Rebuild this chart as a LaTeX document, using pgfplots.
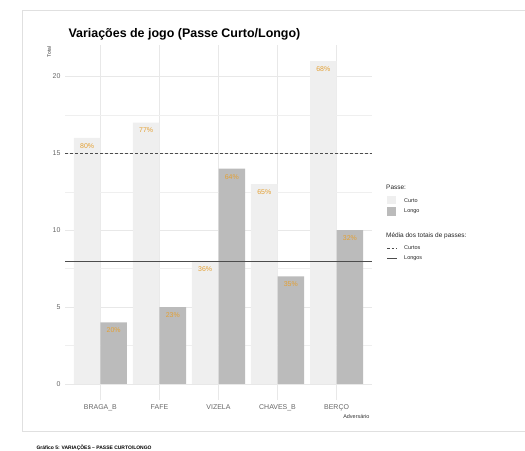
\documentclass[border=0pt]{standalone}
\usepackage{pgfplots}
\pgfplotsset{compat=1.18}
\usepackage{fontspec}
\setmainfont{Liberation Sans}
\definecolor{curto}{RGB}{239,239,239}
\definecolor{longo}{RGB}{187,187,187}
\definecolor{lab}{RGB}{228,160,50}
\definecolor{gridc}{RGB}{232,232,232}
\begin{document}
\begin{tikzpicture}[x=1bp,y=1bp]
\useasboundingbox (0,0) rectangle (525,451);
\draw[black!12, line width=0.6bp] (22,20) rectangle (540,441);
\begin{axis}[at={(65bp,51bp)}, anchor=south west, width=307bp, height=355bp, scale only axis,
  xmin=0.4, xmax=5.6, ymin=-1.05, ymax=22.05,
  axis line style={draw=none}, major tick length=0pt, minor tick length=0pt,
  xtick={1,2,3,4,5}, xticklabels={BRAGA\_B,FAFE,VIZELA,CHAVES\_B,BERÇO},
  ytick={0,5,10,15,20}, minor ytick={2.5,7.5,12.5,17.5},
  xmajorgrids, ymajorgrids, yminorgrids,
  major grid style={color=gridc, line width=0.6bp},
  minor grid style={color=gridc!70, line width=0.4bp},
  ticklabel style={font=\fontsize{7}{8}\selectfont, text=black!60},
  /pgf/number format/assume math mode=true,
  yticklabel style={xshift=-1bp},
  xticklabel style={yshift=-1bp},
  clip=false,
  labs/.style={point meta=explicit symbolic, nodes near coords,
    every node near coord/.append style={anchor=north, yshift=-2bp, font=\fontsize{7}{8}\selectfont, text=lab}},
]
\addplot[ybar, bar width=0.45, bar shift=0, fill=curto, draw=none, labs] coordinates {
 (0.775,16) [80\%] (1.775,17) [77\%] (2.775,8) [36\%] (3.775,13) [65\%] (4.775,21) [68\%]};
\addplot[ybar, bar width=0.45, bar shift=0, fill=longo, draw=none, labs] coordinates {
 (1.225,4) [20\%] (2.225,5) [23\%] (3.225,14) [64\%] (4.225,7) [35\%] (5.225,10) [32\%]};
\addplot[black!70, dash pattern=on 3bp off 2bp, line width=0.5bp] coordinates {(0.4,15) (5.6,15)};
\addplot[black!70, line width=0.6bp] coordinates {(0.4,8) (5.6,8)};
\end{axis}
% titles
\node[anchor=base west, font=\fontsize{12.5}{14}\selectfont\bfseries] at (65,413) {Variações de jogo (Passe Curto/Longo)};
\node[rotate=90, anchor=east, font=\fontsize{5}{6}\selectfont, text=black!80] at (49,408) {Total};
\node[anchor=east, font=\fontsize{5.5}{6}\selectfont, text=black!80] at (373,34) {Adversário};
\node[anchor=west, font=\fontsize{5}{6}\selectfont\bfseries] at (33,3.5) {Gráfico 5: VARIAÇÕES -- PASSE CURTO/LONGO};
% legend
\begin{scope}[font=\fontsize{6.5}{7}\selectfont, text=black!85]
\node[anchor=west, inner sep=0] at (386,264) {Passe:};
\fill[curto] (387,247) rectangle (396,255);
\fill[longo] (387,235) rectangle (396,244);
\node[anchor=west, inner sep=0, font=\fontsize{5.5}{6}\selectfont] at (404,250.5) {Curto};
\node[anchor=west, inner sep=0, font=\fontsize{5.5}{6}\selectfont] at (404,239.5) {Longo};
\node[anchor=west, inner sep=0] at (386,215) {Média dos totais de passes:};
\draw[black!70, dash pattern=on 2.5bp off 2bp, line width=0.5bp] (387,203) -- (397,203);
\draw[black!70, line width=0.6bp] (387,193) -- (397,193);
\node[anchor=west, inner sep=0, font=\fontsize{5.5}{6}\selectfont] at (404,203) {Curtos};
\node[anchor=west, inner sep=0, font=\fontsize{5.5}{6}\selectfont] at (404,193) {Longos};
\end{scope}
\end{tikzpicture}
\end{document}
